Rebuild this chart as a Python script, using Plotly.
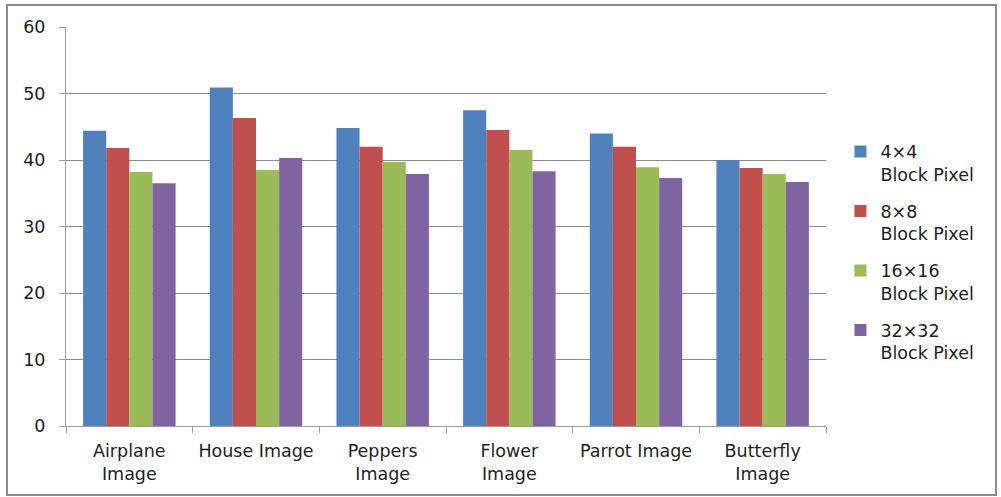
import plotly.graph_objects as go

categories = ["Airplane<br>Image", "House Image", "Peppers<br>Image",
              "Flower<br>Image", "Parrot Image", "Butterfly<br>Image"]
series_names = ["4×4<br>Block Pixel", "8×8<br>Block Pixel",
                "16×16<br>Block Pixel", "32×32<br>Block Pixel"]
block_4 = [44.4, 50.9, 44.8, 47.5, 44.0, 40.0]
block_8 = [41.8, 46.3, 42.0, 44.5, 42.0, 38.8]
block_16 = [38.2, 38.5, 39.7, 41.5, 38.9, 37.9]
block_32 = [36.5, 40.3, 37.9, 38.3, 37.3, 36.7]
colors = ["#4F81BD", "#C0504D", "#9BBB59", "#8064A2"]

font_family = "DejaVu Sans, Open Sans, sans-serif"
text_color = "#1e1e1e"

fig = go.Figure()
for i, (name, vals) in enumerate(zip(series_names,
                                     [block_4, block_8, block_16, block_32])):
    fig.add_trace(go.Bar(
        x=categories, y=vals, name=name, legendgroup=f"g{i}",
        marker=dict(color=colors[i], line=dict(width=0)),
    ))

fig.update_layout(
    width=1001, height=497,
    margin=dict(l=66, r=175, t=27, b=71),
    paper_bgcolor="white", plot_bgcolor="white",
    barmode="group", bargap=0.27, bargroupgap=0,
    font=dict(family=font_family, size=17.5, color=text_color),
    legend=dict(
        x=1.019, y=0.733, xanchor="left", yanchor="top",
        valign="top", tracegroupgap=11,
        font=dict(family=font_family, size=17.5, color=text_color),
    ),
    xaxis=dict(
        showline=True, linecolor="#9a9a9a", linewidth=1,
        ticks="outside", tickson="boundaries", ticklen=6,
        tickcolor="#9a9a9a", showgrid=False, ticklabelstandoff=9,
        tickfont=dict(size=17.5),
    ),
    yaxis=dict(
        range=[0, 60], dtick=10, showline=True, linecolor="#9a9a9a",
        linewidth=1, ticks="outside", ticklen=6, tickcolor="#9a9a9a",
        showgrid=True, gridcolor="#8c8c8c", gridwidth=1,
        zeroline=False, tickfont=dict(size=17.5), ticklabelstandoff=10,
    ),
    shapes=[dict(
        type="rect", xref="paper", yref="paper",
        x0=-59 / 760, x1=1 + 170 / 760, y0=-69 / 399, y1=1 + 22 / 399,
        line=dict(color="#8a8a8a", width=2), fillcolor="rgba(0,0,0,0)",
    )],
)

fig.write_html("out.html")
